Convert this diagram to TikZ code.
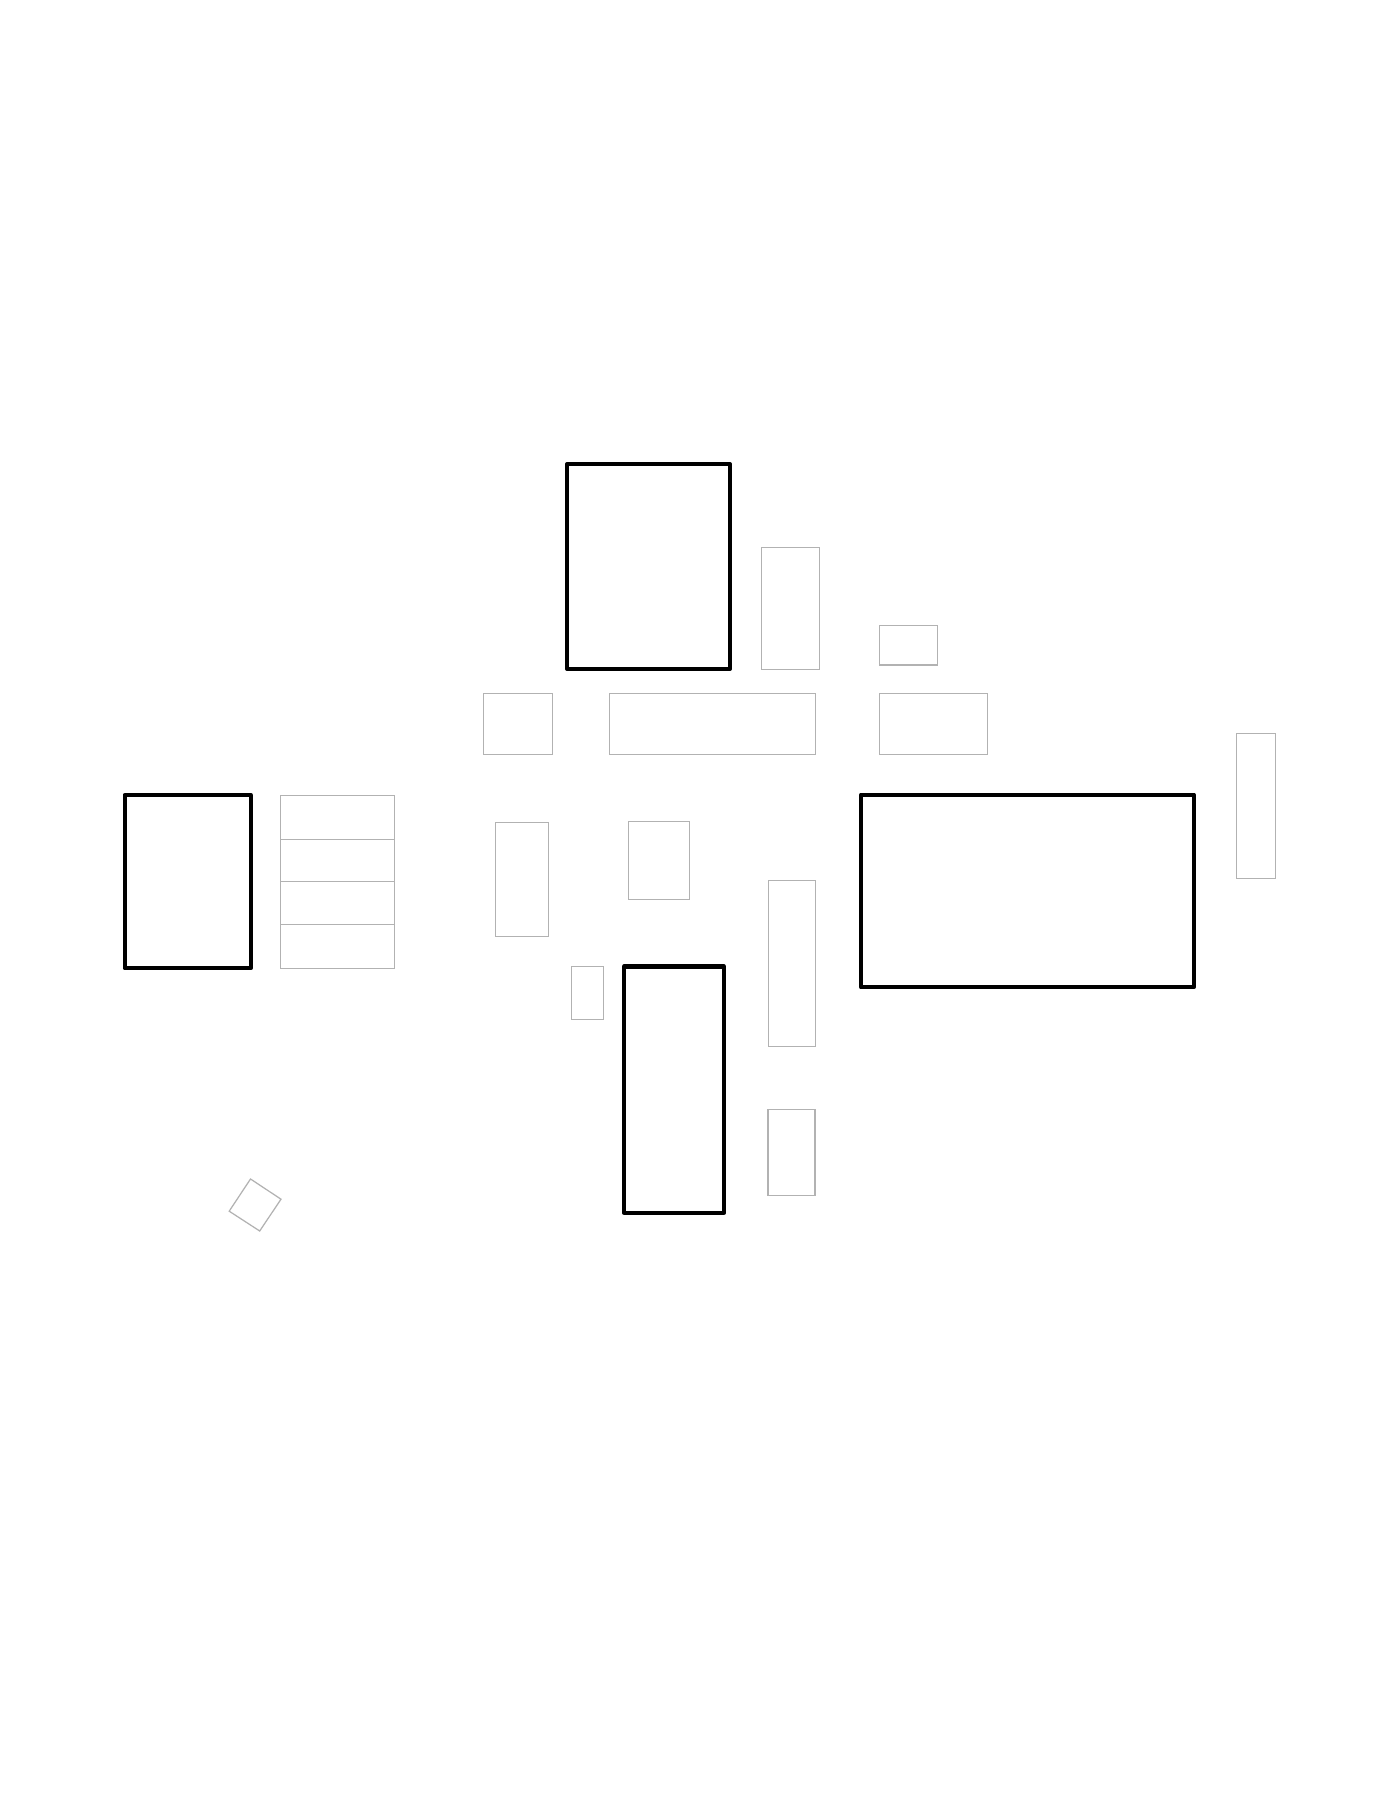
\documentclass[tikz,border=0pt]{standalone}
\usepackage{tikz}

\tikzset{
	wall/.style={black, line width=1.15pt, line join=round},
	piece/.style={black!30, line width=0.35pt}
}

\begin{document}
\begin{tikzpicture}
				\useasboundingbox [fill=white] (0,0) rectangle (14,18);
				% heavy outlines
				\draw [wall] (5.67,13.36) rectangle (7.30,11.31);
				\draw [wall] (1.246,10.05) rectangle (2.507,8.318);
				\draw [wall] (8.61,10.054) rectangle (11.938,8.126);
				\draw [wall] (6.24,8.335) rectangle (7.24,5.873);
				% light outlines
				\draw [piece] (7.615,12.528) rectangle (8.195,11.308);
				\draw [piece] (8.795,11.746) rectangle (9.375,11.35);
				\draw [piece] (4.833,11.067) rectangle (5.522,10.457);
				\draw [piece] (6.095,11.068) rectangle (8.153,10.457);
				\draw [piece] (8.795,11.068) rectangle (9.876,10.457);
				\draw [piece] (12.363,10.668) rectangle (12.754,9.218);
				\draw [piece] (2.804,10.046) rectangle (3.946,8.318);
				\draw [piece] (2.804,9.607) -- (3.946,9.607);
				\draw [piece] (2.804,9.186) -- (3.946,9.186);
				\draw [piece] (2.804,8.757) -- (3.946,8.757);
				\draw [piece] (4.955,9.775) rectangle (5.487,8.636);
				\draw [piece] (6.285,9.786) rectangle (6.895,9.007);
				\draw [piece] (7.683,9.196) rectangle (8.153,7.537);
				\draw [piece] (5.714,8.337) rectangle (6.036,7.807);
				\draw [piece] (7.68,6.907) rectangle (8.15,6.044);
				\draw [piece] (2.505,6.21) -- (2.81,6.008) -- (2.597,5.69) -- (2.292,5.888) -- cycle;
			\end{tikzpicture}
\end{document}
